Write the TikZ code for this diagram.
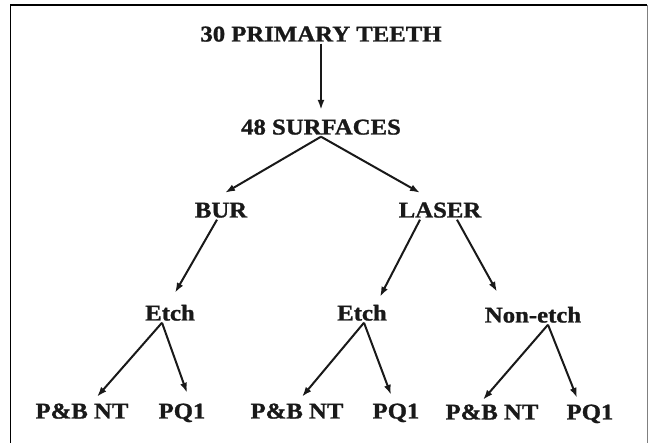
\documentclass[tikz,border=0pt]{standalone}
\usepackage{fontspec}
\setmainfont[FakeStretch=1.1, BoldFeatures={FakeBold=1.2}]{Liberation Serif}
\usepackage{tikz}
\usetikzlibrary{arrows.meta}
\usetikzlibrary{positioning}
\tikzstyle{lbl}=[inner xsep=2pt, inner ysep=2pt, text height=15pt, text depth=0pt,
    font=\fontsize{22.5}{24}\selectfont\bfseries, text=black!90]
\tikzstyle{branch}=[line width=2pt, draw=black!90, -{Latex[length=10pt,width=7pt]}]

\begin{document}
\begin{tikzpicture}[x=1pt,y=-1pt]
\useasboundingbox (0,0) rectangle (649,443);
\draw[line width=1.6pt] (10.5,443) -- (10.5,5) -- (647,5);
\draw[gray, line width=0.6pt] (647.5,5) -- (647.5,443);
\node[lbl] (top) at (321,34){30 PRIMARY TEETH};
\node[lbl] (surf) at (321,127){48 SURFACES};
\node[lbl] (bur) at (221,210){BUR};
\node[lbl] (laser) at (440,210){LASER};
\node[lbl] (etchA) at (170,313){Etch};
\node[lbl] (etchB) at (362,313){Etch};
\node[lbl] (non) at (533,315){Non-etch};
\node[lbl] (pbA) at (82,411){P\&B NT};
\node[lbl] (pqA) at (182,411){PQ1};
\node[lbl] (pbB) at (297,411){P\&B NT};
\node[lbl] (pqB) at (396,411){PQ1};
\node[lbl] (pbC) at (492,412){P\&B NT};
\node[lbl] (pqC) at (590,412){PQ1};
\draw[branch](top.south) -- ([yshift=7.5pt]surf.north);
\draw[branch](surf.south) -- ([xshift=4pt,yshift=7.5pt]bur.north);
\draw[branch](surf.south) -- ([xshift=-20pt,yshift=7.5pt]laser.north);
\draw[branch]([xshift=-4pt]bur.south) -- ([xshift=5pt,yshift=10.5pt]etchA.north);
\draw[branch]([xshift=-20pt]laser.south) -- ([xshift=18pt,yshift=6.5pt]etchB.north);
\draw[branch]([xshift=17pt]laser.south) -- ([xshift=-36pt,yshift=13.5pt]non.north);
\draw[branch]([xshift=-8pt]etchA.south) -- ([xshift=15pt,yshift=4.5pt]pbA.north);
\draw[branch]([xshift=-8pt]etchA.south) -- ([xshift=5pt,yshift=8.5pt]pqA.north);
\draw[branch]([xshift=2pt]etchB.south) -- ([xshift=5pt,yshift=4.5pt]pbB.north);
\draw[branch]([xshift=2pt]etchB.south) -- ([xshift=-5pt,yshift=6.5pt]pqB.north);
\draw[branch]([xshift=15pt]non.south) -- ([xshift=-9pt,yshift=2.5pt]pbC.north);
\draw[branch]([xshift=15pt]non.south) -- ([xshift=-13pt,yshift=4.5pt]pqC.north);
\end{tikzpicture}
\end{document}
